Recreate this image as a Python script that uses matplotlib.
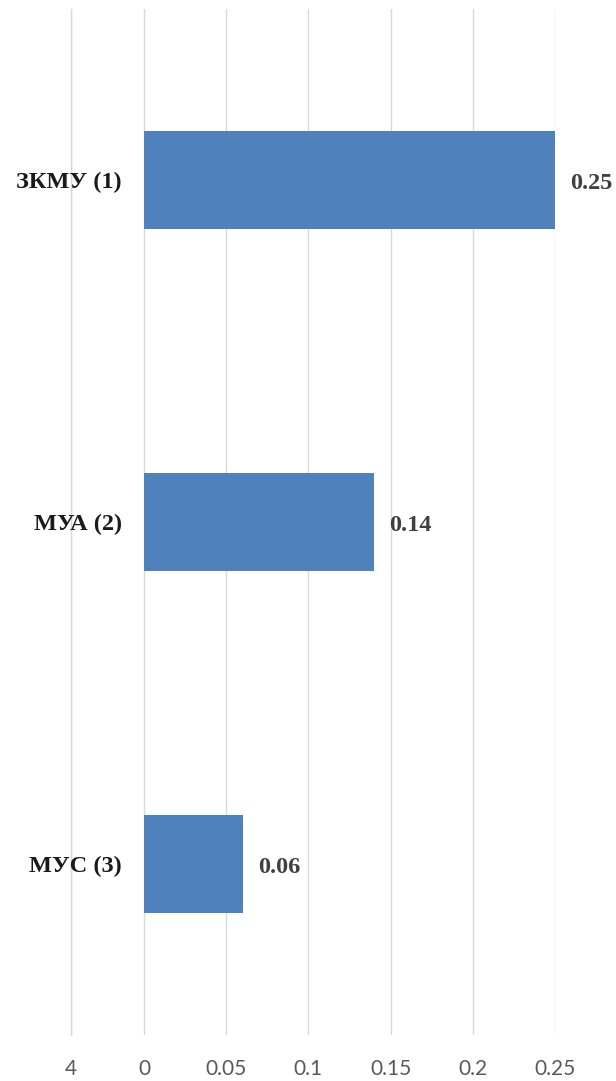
import matplotlib
matplotlib.use("Agg")
import matplotlib.pyplot as plt

categories = ["ЗКМУ (1)", "МУА (2)", "МУС (3)"]
values = [0.25, 0.14, 0.06]
value_labels = ["0.25", "0.14", "0.06"]
tick_values = [-0.0444, 0, 0.05, 0.1, 0.15, 0.2, 0.25]
tick_labels = ["4", "0", "0.05", "0.1", "0.15", "0.2", "0.25"]

W, H = 616, 1081
fig = plt.figure(figsize=(W / 100, H / 100), dpi=100)
ax = fig.add_axes([71 / W, (H - 1035) / H, (555 - 71) / W, (1035 - 9) / H])

ypos = list(range(len(categories)))
ax.barh(ypos, values, height=0.287, color="#4F81BD", zorder=3)
ax.set_ylim(len(categories) - 0.5, -0.5)
ax.set_xlim(tick_values[0], 0.25)

ax.set_xticks(tick_values)
ax.set_xticklabels(tick_labels, fontfamily="Lato", fontsize=15, color="#595959")
ax.tick_params(axis="x", length=0, pad=17)
ax.set_yticks([])

ax.grid(axis="x", color="#D9D9D9", linewidth=1.0, zorder=0)
for s in ["top", "right", "bottom"]:
    ax.spines[s].set_visible(False)
ax.spines["left"].set_color("#D9D9D9")
ax.spines["left"].set_linewidth(1.0)

serif = ["Liberation Serif", "DejaVu Serif"]
for y, v, lab, cat in zip(ypos, values, value_labels, categories):
    ax.text(-0.0134, y + 0.008, cat, ha="right", va="center", fontfamily=serif,
            fontweight="bold", fontsize=17.5, color="#1a1a1a", zorder=4)
    ax.text(v + 0.0092, y + 0.01, lab, ha="left", va="center", fontfamily=serif,
            fontweight="bold", fontsize=17.5, color="#404040", clip_on=False, zorder=4)

fig.savefig("out.png", dpi=100)
